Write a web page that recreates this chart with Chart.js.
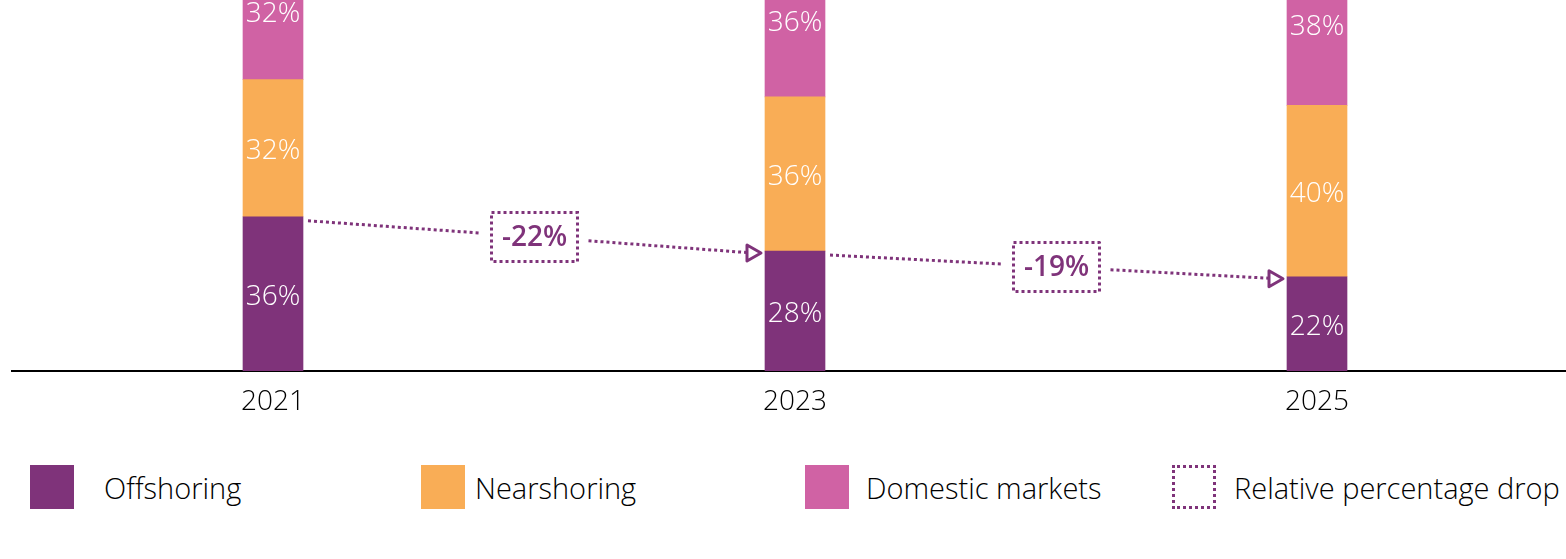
<!DOCTYPE html>
<html>
<head>
<meta charset="utf-8">
<script src="https://cdn.jsdelivr.net/npm/chart.js@4"></script>
<style>
  html, body { margin: 0; padding: 0; background: #fff; overflow: hidden; width: 1566px; height: 559px; }
  #wrap { position: absolute; left: 0; top: 0; width: 1578px; height: 420px; }
  .item { position: absolute; top: 465px; height: 44px; display: flex; align-items: center;
          font-family: "Open Sans", sans-serif; font-weight: 300; font-size: 29px; color: #000; }
  .sw { width: 44px; height: 44px; flex: none; box-sizing: border-box; }
</style>
</head>
<body>
<div id="wrap"><canvas id="chart"></canvas></div>
<div id="legend"></div>
<script>
// dữ liệu
const years = ['2021', '2023', '2025'];
const offshoring = [36, 28, 22];
const nearshoring = [32, 36, 40];
const domestic = [32, 36, 38];
const dropLabels = ['-22%', '-19%'];

const purple = '#7f337a';
const orange = '#f9ad56';
const pink = '#d062a4';
const font = '"Open Sans", sans-serif';

// nhãn % trong cột
const valueLabels = {
    id: 'valueLabels',
    afterDatasetsDraw(chart) {
        const ctx = chart.ctx;
        ctx.save();
        ctx.fillStyle = '#fff';
        ctx.font = '300 28px ' + font;
        ctx.textAlign = 'center';
        ctx.textBaseline = 'middle';
        chart.data.datasets.forEach((ds, i) => {
            chart.getDatasetMeta(i).data.forEach((bar, j) => {
                ctx.fillText(ds.data[j] + '%', bar.x, (bar.y + bar.base) / 2 + 3);
            });
        });
        ctx.restore();
    }
};

// mũi tên chấm + hộp phần trăm giảm
const dropArrows = {
    id: 'dropArrows',
    afterDatasetsDraw(chart) {
        const ctx = chart.ctx;
        const bars = chart.getDatasetMeta(0).data;
        ctx.save();
        ctx.strokeStyle = purple;
        ctx.lineWidth = 3;
        for (let i = 0; i < bars.length - 1; i++) {
            const a = bars[i], b = bars[i + 1];
            const x1 = a.x + a.width / 2 + 5, y1 = a.y + 4;
            const x2 = b.x - b.width / 2 - 4, y2 = b.y + 2;
            const mx = (x1 + x2) / 2, my = (y1 + y2) / 2;
            const bw = 86, bh = 49, gap = 11;
            const t1 = (mx - bw / 2 - gap - x1) / (x2 - x1);
            const t2 = (mx + bw / 2 + gap - x1) / (x2 - x1);
            ctx.setLineDash([3, 3]);
            ctx.beginPath();
            ctx.moveTo(x1, y1);
            ctx.lineTo(x1 + (x2 - x1) * t1, y1 + (y2 - y1) * t1);
            ctx.moveTo(x1 + (x2 - x1) * t2, y1 + (y2 - y1) * t2);
            ctx.lineTo(x2 - 14, y2 - 0.5);
            ctx.stroke();
            ctx.strokeRect(mx - bw / 2, my - bh / 2, bw, bh);
            // đầu mũi tên
            ctx.setLineDash([]);
            ctx.lineJoin = 'round';
            ctx.beginPath();
            ctx.moveTo(x2 - 14, y2 - 8);
            ctx.lineTo(x2, y2);
            ctx.lineTo(x2 - 14, y2 + 8);
            ctx.closePath();
            ctx.stroke();
            ctx.fillStyle = purple;
            ctx.font = '600 28px ' + font;
            ctx.textAlign = 'center';
            ctx.textBaseline = 'middle';
            ctx.fillText(dropLabels[i], mx, my + 1);
        }
        ctx.restore();
    }
};

new Chart(document.getElementById('chart'), {
    type: 'bar',
    data: {
        labels: years,
        datasets: [
            { label: 'Offshoring', data: offshoring, backgroundColor: purple },
            { label: 'Nearshoring', data: nearshoring, backgroundColor: orange },
            { label: 'Domestic markets', data: domestic, backgroundColor: pink }
        ]
    },
    options: {
        responsive: true,
        maintainAspectRatio: false,
        animation: false,
        layout: { padding: { left: 12, top: 0, right: 0, bottom: 0 } },
        datasets: { bar: { barThickness: 60 } },
        plugins: { legend: { display: false }, tooltip: { enabled: false } },
        scales: {
            x: {
                stacked: true,
                grid: { display: false },
                border: { display: true, color: '#000', width: 2 },
                ticks: { color: '#000', padding: 6, font: { family: font, size: 28, weight: '300' } },
                afterFit(scale) { scale.height = 49; }
            },
            y: {
                stacked: true,
                display: false,
                min: 0,
                max: 86.6
            }
        }
    },
    plugins: [valueLabels, dropArrows]
});

// chú thích
const legendItems = [
    { text: 'Offshoring', left: 30, gap: 30, style: 'background:' + purple },
    { text: 'Nearshoring', left: 421, gap: 10, style: 'background:' + orange },
    { text: 'Domestic markets', left: 805, gap: 17, style: 'background:' + pink },
    { text: 'Relative percentage drop', left: 1172, gap: 18, style: 'border:3px dotted ' + purple }
];
const legend = document.getElementById('legend');
legendItems.forEach(it => {
    const d = document.createElement('div');
    d.className = 'item';
    d.style.left = it.left + 'px';
    d.innerHTML = '<div class="sw" style="' + it.style + ';margin-right:' + it.gap + 'px"></div><span>' + it.text + '</span>';
    legend.appendChild(d);
});
</script>
</body>
</html>
